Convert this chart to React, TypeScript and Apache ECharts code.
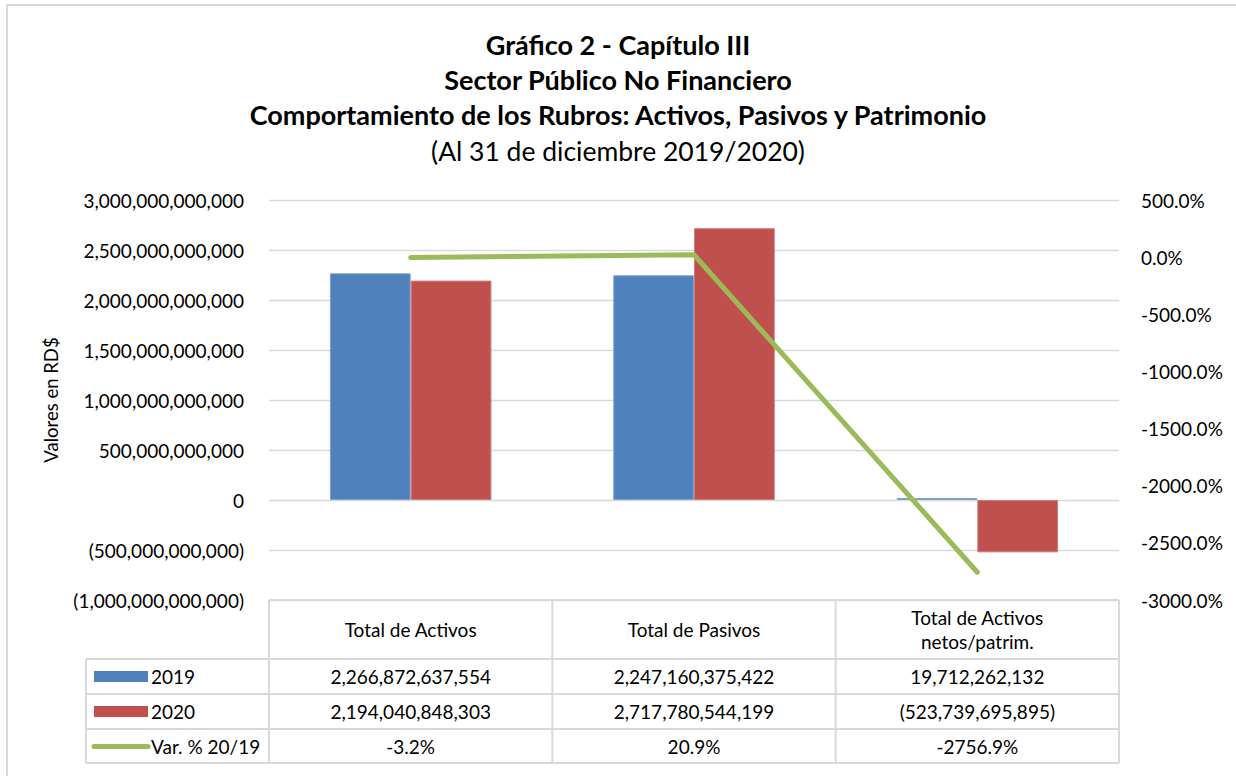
import React, { useEffect, useRef } from "react";
import * as echarts from "echarts";

const categories = ["Total de Activos", "Total de Pasivos", "Total de Activos\nnetos/patrim."];
const values2019 = [2266872637554, 2247160375422, 19712262132];
const values2020 = [2194040848303, 2717780544199, -523739695895];
const varPct = [-3.2, 20.9, -2756.9];
const seriesNames = ["2019", "2020", "Var. % 20/19"];
const titleLines = [
  "Gráfico 2 - Capítulo III",
  "Sector Público No Financiero",
  "Comportamiento de los Rubros: Activos, Pasivos y Patrimonio",
];
const subtitle = "(Al 31 de diciembre 2019/2020)";
const yAxisName = "Valores en RD$";

const COLORS = ["#4F81BD", "#C0504D", "#9BBB59"];
const FONT = "Lato";
const W = 1236;
const H = 776;
const GRID_LEFT = 269;
const GRID_RIGHT = 117;
const GRID_TOP = 200;
const GRID_BOTTOM = 176;
const BORDER = "#d9d9d9";

const fmtNum = (v: number) => {
  if (v === 0) return "0";
  const s = Math.abs(v).toLocaleString("en-US", { maximumFractionDigits: 0 });
  return v < 0 ? "(" + s + ")" : s;
};
const fmtPct = (v: number) => v.toFixed(1) + "%";

export default function App() {
  const ref = useRef<HTMLDivElement>(null);
  useEffect(() => {
    if (!ref.current) return;
    const chart = echarts.init(ref.current, undefined, { renderer: "svg" });

    const plotW = W - GRID_LEFT - GRID_RIGHT;
    const colW = plotW / categories.length;
    const tableLeft = 86;
    const headerTop = 600;
    const rowTops = [659, 694, 729];
    const rowBottom = 763;
    const rowH = 35;
    const textStyleBase = { fontFamily: FONT, fontSize: 19, fill: "#000" };

    const g: any[] = [];
    // outer chart border
    g.push({
      type: "rect",
      shape: { x: 7, y: 5, width: W + 20, height: H + 20 },
      style: { fill: "none", stroke: BORDER, lineWidth: 2 },
      silent: true,
    });
    const lineStyle = { stroke: BORDER, lineWidth: 2 };
    g.push({ type: "line", shape: { x1: GRID_LEFT, y1: headerTop, x2: W - GRID_RIGHT, y2: headerTop }, style: lineStyle });
    [rowTops[0], rowTops[1], rowTops[2], rowBottom].forEach((y) => {
      g.push({ type: "line", shape: { x1: tableLeft, y1: y, x2: W - GRID_RIGHT, y2: y }, style: lineStyle });
    });
    g.push({ type: "line", shape: { x1: tableLeft, y1: rowTops[0], x2: tableLeft, y2: rowBottom }, style: lineStyle });
    for (let i = 0; i <= categories.length; i++) {
      const x = GRID_LEFT + i * colW;
      g.push({ type: "line", shape: { x1: x, y1: headerTop, x2: x, y2: rowBottom }, style: lineStyle });
    }
    categories.forEach((c, i) => {
      g.push({
        type: "text",
        x: GRID_LEFT + (i + 0.5) * colW,
        y: (headerTop + rowTops[0]) / 2,
        style: { ...textStyleBase, text: c, align: "center", verticalAlign: "middle", lineHeight: 24 },
      });
    });
    const rows = [values2019.map(fmtNum), values2020.map(fmtNum), varPct.map(fmtPct)];
    rows.forEach((r, ri) => {
      const cy = rowTops[ri] + rowH / 2;
      if (ri < 2) {
        g.push({
          type: "rect",
          shape: { x: tableLeft + 8, y: cy - 5.5, width: 54, height: 11 },
          style: { fill: COLORS[ri] },
        });
      } else {
        g.push({
          type: "line",
          shape: { x1: tableLeft + 8, y1: cy, x2: tableLeft + 62, y2: cy },
          style: { stroke: COLORS[2], lineWidth: 5, lineCap: "round" },
        });
      }
      g.push({
        type: "text",
        x: tableLeft + 65,
        y: cy,
        style: { ...textStyleBase, text: seriesNames[ri], align: "left", verticalAlign: "middle" },
      });
      r.forEach((t, ci) => {
        g.push({
          type: "text",
          x: GRID_LEFT + (ci + 0.5) * colW,
          y: cy,
          style: { ...textStyleBase, text: t, align: "center", verticalAlign: "middle" },
        });
      });
    });

    chart.setOption({
      animation: false,
      backgroundColor: "#fff",
      textStyle: { fontFamily: FONT },
      title: [
        {
          text: titleLines.join("\n"),
          left: W / 2,
          top: 27,
          padding: 0,
          textAlign: "center",
          textStyle: { fontFamily: FONT, fontWeight: "bold", fontSize: 27, lineHeight: 35, color: "#000" },
        },
        {
          text: subtitle,
          left: W / 2,
          top: 133,
          padding: 0,
          textAlign: "center",
          textStyle: { fontFamily: FONT, fontWeight: "normal", fontSize: 26.5, lineHeight: 36, color: "#000" },
        },
      ],
      grid: { left: GRID_LEFT, right: GRID_RIGHT, top: GRID_TOP, bottom: GRID_BOTTOM, containLabel: false },
      xAxis: {
        type: "category",
        data: categories,
        axisLine: { show: false },
        axisTick: { show: false },
        axisLabel: { show: false },
      },
      yAxis: [
        {
          type: "value",
          min: -1e12,
          max: 3e12,
          interval: 5e11,
          name: yAxisName,
          nameLocation: "middle",
          nameRotate: 90,
          nameGap: 209,
          nameTextStyle: { fontFamily: FONT, fontSize: 18.5, color: "#000" },
          axisLine: { show: false },
          axisTick: { show: false },
          axisLabel: { formatter: (v: number) => fmtNum(v), fontFamily: FONT, fontSize: 19, color: "#000", margin: 25 },
          splitLine: { show: true, lineStyle: { color: BORDER, width: 1.3 } },
        },
        {
          type: "value",
          min: -3000,
          max: 500,
          interval: 500,
          position: "right",
          axisLine: { show: false },
          axisTick: { show: false },
          axisLabel: { formatter: (v: number) => fmtPct(v), fontFamily: FONT, fontSize: 19, color: "#000", margin: 22 },
          splitLine: { show: false },
        },
      ],
      series: [
        {
          name: seriesNames[0],
          type: "bar",
          data: values2019,
          barGap: "0%",
          barCategoryGap: "43%",
          itemStyle: { color: COLORS[0], borderColor: "#7ea1cf", borderWidth: 1 },
        },
        {
          name: seriesNames[1],
          type: "bar",
          data: values2020,
          itemStyle: { color: COLORS[1], borderColor: "#cf7b79", borderWidth: 1 },
        },
        {
          name: seriesNames[2],
          type: "line",
          yAxisIndex: 1,
          data: varPct,
          symbol: "none",
          lineStyle: { color: COLORS[2], width: 5, cap: "round", join: "round" },
          z: 5,
        },
      ],
      graphic: g,
    });
    return () => chart.dispose();
  }, []);
  return <div ref={ref} style={{ position: "fixed", left: 0, top: 0, width: W, height: H }} />;
}
